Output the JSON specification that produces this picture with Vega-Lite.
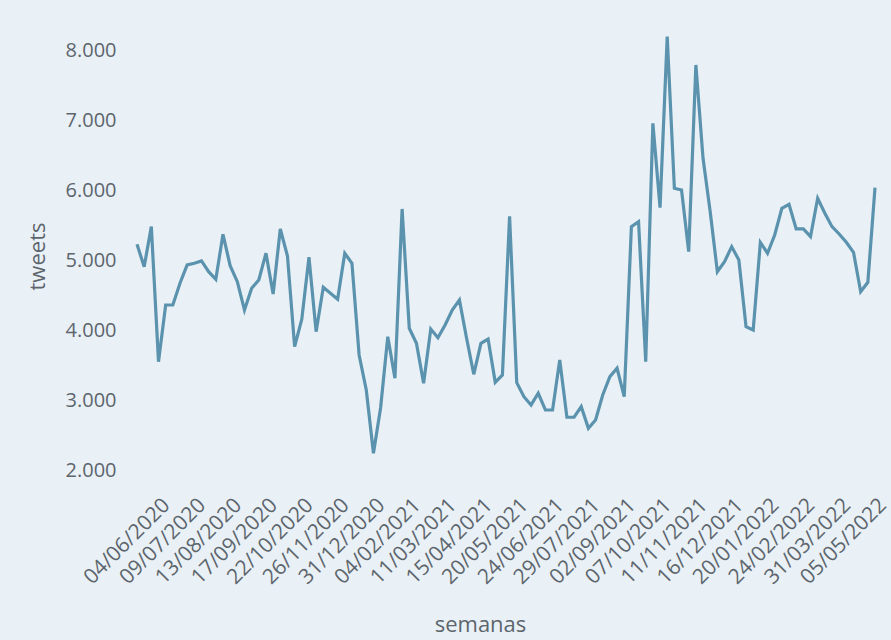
{
  "$schema": "https://vega.github.io/schema/vega-lite/v6.json",
  "width": 738,
  "height": 480,
  "autosize": {"type": "none"},
  "padding": {"left": 137, "top": 10, "right": 16, "bottom": 150},
  "background": "#e9f1f6",
  "config": {
    "view": {"stroke": null},
    "font": "Open Sans"
  },
  "data": {
    "values": [
      {"semana": "14/05/2020", "tweets": 5234},
      {"semana": "21/05/2020", "tweets": 4914},
      {"semana": "28/05/2020", "tweets": 5486},
      {"semana": "04/06/2020", "tweets": 3557},
      {"semana": "11/06/2020", "tweets": 4367},
      {"semana": "18/06/2020", "tweets": 4367},
      {"semana": "25/06/2020", "tweets": 4677},
      {"semana": "02/07/2020", "tweets": 4939},
      {"semana": "09/07/2020", "tweets": 4963},
      {"semana": "16/07/2020", "tweets": 4996},
      {"semana": "23/07/2020", "tweets": 4843},
      {"semana": "30/07/2020", "tweets": 4734},
      {"semana": "06/08/2020", "tweets": 5377},
      {"semana": "13/08/2020", "tweets": 4929},
      {"semana": "20/08/2020", "tweets": 4700},
      {"semana": "27/08/2020", "tweets": 4296},
      {"semana": "03/09/2020", "tweets": 4606},
      {"semana": "10/09/2020", "tweets": 4724},
      {"semana": "17/09/2020", "tweets": 5106},
      {"semana": "24/09/2020", "tweets": 4524},
      {"semana": "01/10/2020", "tweets": 5453},
      {"semana": "08/10/2020", "tweets": 5067},
      {"semana": "15/10/2020", "tweets": 3771},
      {"semana": "22/10/2020", "tweets": 4163},
      {"semana": "29/10/2020", "tweets": 5049},
      {"semana": "05/11/2020", "tweets": 3986},
      {"semana": "12/11/2020", "tweets": 4620},
      {"semana": "19/11/2020", "tweets": 4534},
      {"semana": "26/11/2020", "tweets": 4449},
      {"semana": "03/12/2020", "tweets": 5106},
      {"semana": "10/12/2020", "tweets": 4963},
      {"semana": "17/12/2020", "tweets": 3653},
      {"semana": "24/12/2020", "tweets": 3153},
      {"semana": "31/12/2020", "tweets": 2249},
      {"semana": "07/01/2021", "tweets": 2900},
      {"semana": "14/01/2021", "tweets": 3914},
      {"semana": "21/01/2021", "tweets": 3320},
      {"semana": "28/01/2021", "tweets": 5739},
      {"semana": "04/02/2021", "tweets": 4034},
      {"semana": "11/02/2021", "tweets": 3820},
      {"semana": "18/02/2021", "tweets": 3249},
      {"semana": "25/02/2021", "tweets": 4024},
      {"semana": "04/03/2021", "tweets": 3900},
      {"semana": "11/03/2021", "tweets": 4081},
      {"semana": "18/03/2021", "tweets": 4296},
      {"semana": "25/03/2021", "tweets": 4439},
      {"semana": "01/04/2021", "tweets": 3891},
      {"semana": "08/04/2021", "tweets": 3377},
      {"semana": "15/04/2021", "tweets": 3820},
      {"semana": "22/04/2021", "tweets": 3881},
      {"semana": "29/04/2021", "tweets": 3263},
      {"semana": "06/05/2021", "tweets": 3367},
      {"semana": "13/05/2021", "tweets": 5635},
      {"semana": "20/05/2021", "tweets": 3257},
      {"semana": "27/05/2021", "tweets": 3057},
      {"semana": "03/06/2021", "tweets": 2939},
      {"semana": "10/06/2021", "tweets": 3106},
      {"semana": "17/06/2021", "tweets": 2867},
      {"semana": "24/06/2021", "tweets": 2867},
      {"semana": "01/07/2021", "tweets": 3581},
      {"semana": "08/07/2021", "tweets": 2763},
      {"semana": "15/07/2021", "tweets": 2763},
      {"semana": "22/07/2021", "tweets": 2914},
      {"semana": "29/07/2021", "tweets": 2606},
      {"semana": "05/08/2021", "tweets": 2724},
      {"semana": "12/08/2021", "tweets": 3081},
      {"semana": "19/08/2021", "tweets": 3343},
      {"semana": "26/08/2021", "tweets": 3463},
      {"semana": "02/09/2021", "tweets": 3057},
      {"semana": "09/09/2021", "tweets": 5486},
      {"semana": "16/09/2021", "tweets": 5557},
      {"semana": "23/09/2021", "tweets": 3557},
      {"semana": "30/09/2021", "tweets": 6963},
      {"semana": "07/10/2021", "tweets": 5757},
      {"semana": "14/10/2021", "tweets": 8200},
      {"semana": "21/10/2021", "tweets": 6034},
      {"semana": "28/10/2021", "tweets": 6010},
      {"semana": "04/11/2021", "tweets": 5129},
      {"semana": "11/11/2021", "tweets": 7796},
      {"semana": "18/11/2021", "tweets": 6463},
      {"semana": "25/11/2021", "tweets": 5700},
      {"semana": "02/12/2021", "tweets": 4843},
      {"semana": "09/12/2021", "tweets": 4986},
      {"semana": "16/12/2021", "tweets": 5200},
      {"semana": "23/12/2021", "tweets": 5010},
      {"semana": "30/12/2021", "tweets": 4057},
      {"semana": "06/01/2022", "tweets": 4010},
      {"semana": "13/01/2022", "tweets": 5260},
      {"semana": "20/01/2022", "tweets": 5106},
      {"semana": "27/01/2022", "tweets": 5367},
      {"semana": "03/02/2022", "tweets": 5749},
      {"semana": "10/02/2022", "tweets": 5806},
      {"semana": "17/02/2022", "tweets": 5453},
      {"semana": "24/02/2022", "tweets": 5453},
      {"semana": "03/03/2022", "tweets": 5343},
      {"semana": "10/03/2022", "tweets": 5891},
      {"semana": "17/03/2022", "tweets": 5677},
      {"semana": "24/03/2022", "tweets": 5486},
      {"semana": "31/03/2022", "tweets": 5381},
      {"semana": "07/04/2022", "tweets": 5263},
      {"semana": "14/04/2022", "tweets": 5120},
      {"semana": "21/04/2022", "tweets": 4557},
      {"semana": "28/04/2022", "tweets": 4691},
      {"semana": "05/05/2022", "tweets": 6043}
    ]
  },
  "mark": {"type": "line", "color": "#5b93ae", "strokeWidth": 3.2},
  "encoding": {
    "x": {
      "field": "semana",
      "type": "ordinal",
      "sort": null,
      "scale": {"type": "point", "padding": 0},
      "axis": {
        "title": "semanas",
        "values": ["04/06/2020", "09/07/2020", "13/08/2020", "17/09/2020", "22/10/2020", "26/11/2020", "31/12/2020", "04/02/2021", "11/03/2021", "15/04/2021", "20/05/2021", "24/06/2021", "29/07/2021", "02/09/2021", "07/10/2021", "11/11/2021", "16/12/2021", "20/01/2022", "24/02/2022", "31/03/2022", "05/05/2022"],
        "labelAngle": -45,
        "labelAlign": "right",
        "labelBaseline": "top",
        "labelFontSize": 21,
        "labelColor": "#5d656d",
        "labelPadding": 4,
        "labelOverlap": false,
        "ticks": false,
        "domain": false,
        "grid": false,
        "titleFontSize": 22,
        "titleFontWeight": "normal",
        "titleColor": "#5d656d",
        "titleX": 343,
        "titleY": 134,
        "titleBaseline": "middle",
        "titleAlign": "center"
      }
    },
    "y": {
      "field": "tweets",
      "type": "quantitative",
      "scale": {"domain": [1724, 8581], "nice": false, "zero": false},
      "axis": {
        "title": "tweets",
        "values": [2000, 3000, 4000, 5000, 6000, 7000, 8000],
        "labelExpr": "replace(format(datum.value, ','), ',', '.')",
        "labelFontSize": 20,
        "labelColor": "#5d656d",
        "labelPadding": 21,
        "ticks": false,
        "domain": false,
        "grid": false,
        "titleFontSize": 22,
        "titleFontWeight": "normal",
        "titleColor": "#5d656d",
        "titleX": -100,
        "titleY": 246,
        "titleAngle": -90,
        "titleBaseline": "middle",
        "titleAlign": "center"
      }
    }
  }
}
